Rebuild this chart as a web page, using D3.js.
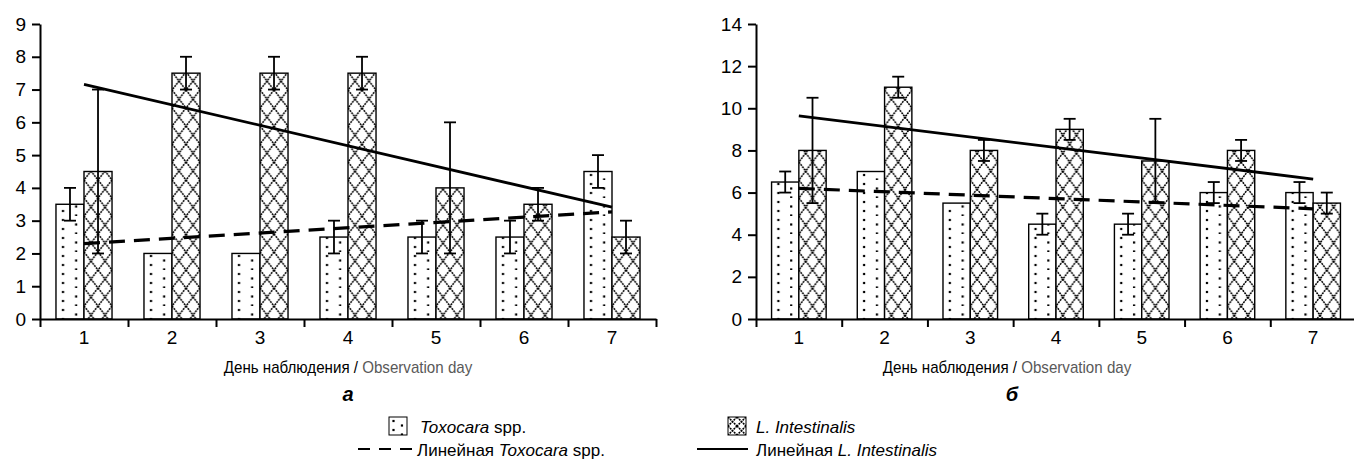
<!DOCTYPE html>
<html>
<head>
<meta charset="utf-8">
<script src="https://cdn.jsdelivr.net/npm/d3@7"></script>
<style>
  body { margin: 0; background: #fff; }
  text { font-family: "Liberation Sans", Arial, sans-serif; }
</style>
</head>
<body>
<div id="chart"></div>
<script>
// Days of observation
var days = ["1", "2", "3", "4", "5", "6", "7"];

// Panel a
var toxoA = [3.5, 2, 2, 2.5, 2.5, 2.5, 4.5];
var toxoErrA = [0.5, 0, 0, 0.5, 0.5, 0.5, 0.5];
var linA = [4.5, 7.5, 7.5, 7.5, 4, 3.5, 2.5];
var linErrA = [2.5, 0.5, 0.5, 0.5, 2, 0.5, 0.5];
var trendToxoA = [2.3, 3.27];   // linear trend, day 1 -> day 7
var trendLinA = [7.16, 3.41];
var ticksA = [0, 1, 2, 3, 4, 5, 6, 7, 8, 9];

// Panel b
var toxoB = [6.5, 7, 5.5, 4.5, 4.5, 6, 6];
var toxoErrB = [0.5, 0, 0, 0.5, 0.5, 0.5, 0.5];
var linB = [8, 11, 8, 9, 7.5, 8, 5.5];
var linErrB = [2.5, 0.5, 0.5, 0.5, 2, 0.5, 0.5];
var trendToxoB = [6.2, 5.23];
var trendLinB = [9.64, 6.64];
var ticksB = [0, 2, 4, 6, 8, 10, 12, 14];

var width = 1354;
var height = 462;

var svg = d3.select("#chart")
  .append("svg")
  .attr("width", width)
  .attr("height", height);

var defs = svg.append("defs");

// dotted fill (Toxocara)
function dotPattern(id, w) {
  var p = defs.append("pattern")
    .attr("id", id)
    .attr("patternUnits", "userSpaceOnUse")
    .attr("width", w)
    .attr("height", 18);
  [[w * 0.25, 4], [w * 0.25, 13], [w * 0.72, 8.5], [w * 0.72, 17.5]].forEach(function(d) {
    p.append("rect")
      .attr("x", d[0] - 1.1).attr("y", d[1] - 1.1)
      .attr("width", 2.2).attr("height", 2.2)
      .attr("fill", "#000");
  });
}

// diamond cross fill (L. intestinalis)
function crossPattern(id, w, h) {
  var p = defs.append("pattern")
    .attr("id", id)
    .attr("patternUnits", "userSpaceOnUse")
    .attr("width", w)
    .attr("height", h);
  p.append("path")
    .attr("d", "M0,0L" + w + "," + h + "M" + w + ",0L0," + h +
      "M" + (-w) + ",0L" + w + "," + (2 * h) + "M" + (2 * w) + ",0L0," + (2 * h) +
      "M0," + (-h) + "L" + (2 * w) + "," + h + "M" + w + "," + (-h) + "L" + (-w) + "," + h)
    .attr("fill", "none")
    .attr("stroke", "#000")
    .attr("stroke-width", 1.5)
    .attr("stroke-dasharray", "2,0.8");
}

function drawPanel(cfg) {
  var g = svg.append("g");

  var x = d3.scaleBand()
    .domain(days)
    .range([cfg.left, cfg.right]);

  var xSub = d3.scaleBand()
    .domain(["toxo", "lin"])
    .range([0, x.bandwidth()])
    .paddingOuter(0.57);

  var y = d3.scaleLinear()
    .domain([0, cfg.ymax])
    .range([319, 24]);

  var bw = xSub.bandwidth();
  dotPattern("dots" + cfg.id, bw);
  crossPattern("cross" + cfg.id, bw / 2, 18);

  var series = [
    { key: "toxo", vals: cfg.toxo, err: cfg.toxoErr, fill: "url(#dots" + cfg.id + ")" },
    { key: "lin", vals: cfg.lin, err: cfg.linErr, fill: "url(#cross" + cfg.id + ")" }
  ];

  // bars (each in its own group so the pattern starts at the bar edge)
  series.forEach(function(s) {
    var bar = g.selectAll(null)
      .data(s.vals)
      .enter()
      .append("g")
      .attr("transform", function(d, i) { return "translate(" + (x(days[i]) + xSub(s.key)) + ",0)"; });
    bar.append("rect")
      .attr("y", function(d) { return y(d); })
      .attr("width", bw)
      .attr("height", function(d) { return y(0) - y(d); })
      .attr("fill", "#fff");
    bar.append("rect")
      .attr("y", function(d) { return y(d); })
      .attr("width", bw)
      .attr("height", function(d) { return y(0) - y(d); })
      .attr("fill", s.fill)
      .attr("stroke", "#000")
      .attr("stroke-width", 1.4);
  });

  // error bars
  series.forEach(function(s) {
    var eb = g.selectAll(null)
      .data(s.vals.map(function(v, i) { return { v: v, e: s.err[i], day: days[i] }; })
        .filter(function(d) { return d.e > 0; }))
      .enter()
      .append("g")
      .attr("stroke", "#000")
      .attr("stroke-width", 1.8);
    var cx = function(d) { return x(d.day) + xSub(s.key) + bw / 2; };
    eb.append("line")
      .attr("x1", cx).attr("x2", cx)
      .attr("y1", function(d) { return y(d.v - d.e); })
      .attr("y2", function(d) { return y(d.v + d.e); });
    eb.append("line")
      .attr("x1", function(d) { return cx(d) - 6; }).attr("x2", function(d) { return cx(d) + 6; })
      .attr("y1", function(d) { return y(d.v + d.e); })
      .attr("y2", function(d) { return y(d.v + d.e); });
    eb.append("line")
      .attr("x1", function(d) { return cx(d) - 6; }).attr("x2", function(d) { return cx(d) + 6; })
      .attr("y1", function(d) { return y(d.v - d.e); })
      .attr("y2", function(d) { return y(d.v - d.e); });
  });

  // linear trend lines
  var line = d3.line()
    .x(function(d) { return x(d[0]) + x.bandwidth() / 2; })
    .y(function(d) { return y(d[1]); });

  g.append("path")
    .attr("d", line([[days[0], cfg.trendLin[0]], [days[6], cfg.trendLin[1]]]))
    .attr("fill", "none")
    .attr("stroke", "#000")
    .attr("stroke-width", 2.8);

  g.append("path")
    .attr("d", line([[days[0], cfg.trendToxo[0]], [days[6], cfg.trendToxo[1]]]))
    .attr("fill", "none")
    .attr("stroke", "#000")
    .attr("stroke-width", 3.2)
    .attr("stroke-dasharray", "16,9");

  // y axis
  var yAxis = g.append("g")
    .attr("transform", "translate(" + cfg.left + ",0)")
    .call(d3.axisLeft(y).tickValues(cfg.ticks).tickSize(8).tickSizeOuter(0).tickPadding(6));
  yAxis.selectAll("text").attr("font-size", 19).attr("fill", "#000");

  // x axis: boundary ticks + centred labels
  var xEdges = d3.scaleLinear().domain([0, 7]).range([cfg.left, cfg.right]);
  g.append("g")
    .attr("transform", "translate(0,319)")
    .call(d3.axisBottom(xEdges).tickValues(d3.range(8)).tickFormat("").tickSize(8).tickSizeOuter(0));

  var xLab = g.append("g")
    .attr("transform", "translate(0,319)")
    .call(d3.axisBottom(x).tickSize(0).tickPadding(12));
  xLab.select(".domain").remove();
  xLab.selectAll("text").attr("font-size", 19).attr("fill", "#000");

  g.selectAll(".domain, .tick line").attr("stroke", "#000").attr("stroke-width", 2);

  // axis title (slightly condensed like the original)
  var t = g.append("text")
    .attr("transform", "translate(" + cfg.titleX + ",373) scale(0.89,1)")
    .attr("text-anchor", "middle")
    .attr("font-size", 17);
  t.append("tspan").attr("fill", "#000").text("День наблюдения / ");
  t.append("tspan").attr("fill", "#595959").text("Observation day");

  g.append("text")
    .attr("x", cfg.letterX)
    .attr("y", 401)
    .attr("text-anchor", "middle")
    .attr("font-size", 20)
    .attr("font-weight", "bold")
    .attr("font-style", "italic")
    .text(cfg.letter);
}

drawPanel({ id: "A", left: 40, right: 656, ymax: 9, ticks: ticksA,
  toxo: toxoA, toxoErr: toxoErrA, lin: linA, linErr: linErrA,
  trendToxo: trendToxoA, trendLin: trendLinA, titleX: 348, letterX: 348, letter: "а" });

drawPanel({ id: "B", left: 756, right: 1356, ymax: 14, ticks: ticksB,
  toxo: toxoB, toxoErr: toxoErrB, lin: linB, linErr: linErrB,
  trendToxo: trendToxoB, trendLin: trendLinB, titleX: 1007, letterX: 1012, letter: "б" });

// Legend
var leg = svg.append("g");
dotPattern("dotsL", 18);
crossPattern("crossL", 9, 9);

leg.append("g").attr("transform", "translate(389,417)")
  .append("rect").attr("width", 18).attr("height", 18)
  .attr("fill", "url(#dotsL)").attr("stroke", "#000").attr("stroke-width", 1);
leg.append("g").attr("transform", "translate(728,417)")
  .append("rect").attr("width", 18).attr("height", 18)
  .attr("fill", "url(#crossL)").attr("stroke", "#000").attr("stroke-width", 1);

leg.append("line")
  .attr("x1", 358).attr("x2", 412).attr("y1", 449).attr("y2", 449)
  .attr("stroke", "#000").attr("stroke-width", 2).attr("stroke-dasharray", "12,9");
leg.append("line")
  .attr("x1", 697).attr("x2", 748).attr("y1", 449).attr("y2", 449)
  .attr("stroke", "#000").attr("stroke-width", 2);

var legendItems = [
  { x: 420, y: 433, parts: [["Toxocara", true], [" spp.", false]] },
  { x: 756, y: 433, parts: [["L. Intestinalis", true]] },
  { x: 417, y: 456, parts: [["Линейная ", false], ["Toxocara", true], [" spp.", false]] },
  { x: 756, y: 456, parts: [["Линейная ", false], ["L. Intestinalis", true]] }
];

legendItems.forEach(function(item) {
  var t = leg.append("text")
    .attr("x", item.x)
    .attr("y", item.y)
    .attr("font-size", 17);
  item.parts.forEach(function(p) {
    t.append("tspan")
      .attr("font-style", p[1] ? "italic" : "normal")
      .text(p[0]);
  });
});
</script>
</body>
</html>
